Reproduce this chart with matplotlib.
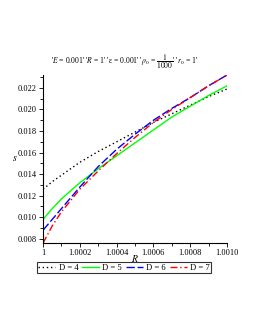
import matplotlib
matplotlib.use("Agg")
import matplotlib.pyplot as plt
from matplotlib.ticker import FixedLocator, FixedFormatter, MultipleLocator

plt.rcParams['font.family'] = ['Liberation Serif', 'DejaVu Serif']
plt.rcParams['mathtext.fontset'] = 'stix'

# data
R = [1.0, 1.00005, 1.0001, 1.0002, 1.0003, 1.0004, 1.0005, 1.0006, 1.0007, 1.0008, 1.0009, 1.0010]
s_D4 = [0.0126, 0.0133, 0.0139, 0.0151, 0.0161, 0.0170, 0.0179, 0.0188, 0.0196, 0.0204, 0.0212, 0.0219]
s_D5 = [0.0098, 0.0108, 0.0117, 0.0132, 0.0145, 0.0157, 0.0169, 0.0181, 0.0193, 0.0203, 0.0213, 0.0222]
s_D6 = [0.0088, 0.0098, 0.0108, 0.0128, 0.0147, 0.0163, 0.0177, 0.0190, 0.0201, 0.0211, 0.0222, 0.0232]
s_D7 = [0.0076, 0.0092, 0.0105, 0.0126, 0.0143, 0.0159, 0.0174, 0.0188, 0.0200, 0.0211, 0.0222, 0.0232]
labels = ["D = 4", "D = 5", "D = 6", "D = 7"]
xticks = [1.0, 1.0002, 1.0004, 1.0006, 1.0008, 1.0010]
xticklabels = ["1", "1.0002", "1.0004", "1.0006", "1.0008", "1.0010"]
yticks = [0.008, 0.010, 0.012, 0.014, 0.016, 0.018, 0.020, 0.022]
yticklabels = ["0.008", "0.010", "0.012", "0.014", "0.016", "0.018", "0.020", "0.022"]

fig = plt.figure(figsize=(2.55, 3.30), dpi=100)
ax = fig.add_axes([0.169, 0.2636, 0.721, 0.509])

ax.plot(R, s_D4, color='black', linestyle=(0, (1, 2)), linewidth=1.0, label=labels[0])
ax.plot(R, s_D5, color='#00ff00', linestyle='-', linewidth=1.0, label=labels[1])
ax.plot(R, s_D6, color='#0000ff', linestyle=(0, (6, 2)), linewidth=1.0, label=labels[2])
ax.plot(R, s_D7, color='#ff0000', linestyle=(0, (5, 2, 1, 2)), linewidth=1.0, label=labels[3])

ax.set_xlim(min(R), max(R))
ax.set_ylim(min(s_D7), max(s_D6))

ax.xaxis.set_major_locator(FixedLocator(xticks))
ax.xaxis.set_major_formatter(FixedFormatter(xticklabels))
ax.yaxis.set_major_locator(FixedLocator(yticks))
ax.yaxis.set_major_formatter(FixedFormatter(yticklabels))
ax.xaxis.set_minor_locator(MultipleLocator(0.0001))
ax.yaxis.set_minor_locator(MultipleLocator(0.001))
ax.tick_params(which='major', direction='out', length=3, width=0.6, labelsize=6, pad=1.5)
ax.tick_params(which='minor', direction='out', length=2, width=0.6)

for side in ['top', 'right']:
    ax.spines[side].set_visible(False)
for side in ['left', 'bottom']:
    ax.spines[side].set_linewidth(0.8)

fig.text(0.059, 0.52, "$s$", fontsize=7, ha='center', va='center')
fig.text(0.53, 0.218, "$R$", fontsize=7, ha='center', va='center')

fig.text(0.49, 0.812, r"'$E$ = 0.001' '$R$ = 1' 'ε = 0.001' '$\rho_0$ = $\dfrac{1}{1000}$' '$r_0$ = 1'",
         fontsize=5.5, ha='center', va='center')

leg = fig.legend(loc='center', bbox_to_anchor=(0.486, 0.189), ncol=4, fontsize=6.2,
                 frameon=True, fancybox=False, edgecolor='black', handlelength=2.0,
                 handletextpad=0.35, columnspacing=0.45, borderpad=0.2)
leg.get_frame().set_linewidth(0.8)

fig.savefig("out.png", dpi=100, facecolor='white')
